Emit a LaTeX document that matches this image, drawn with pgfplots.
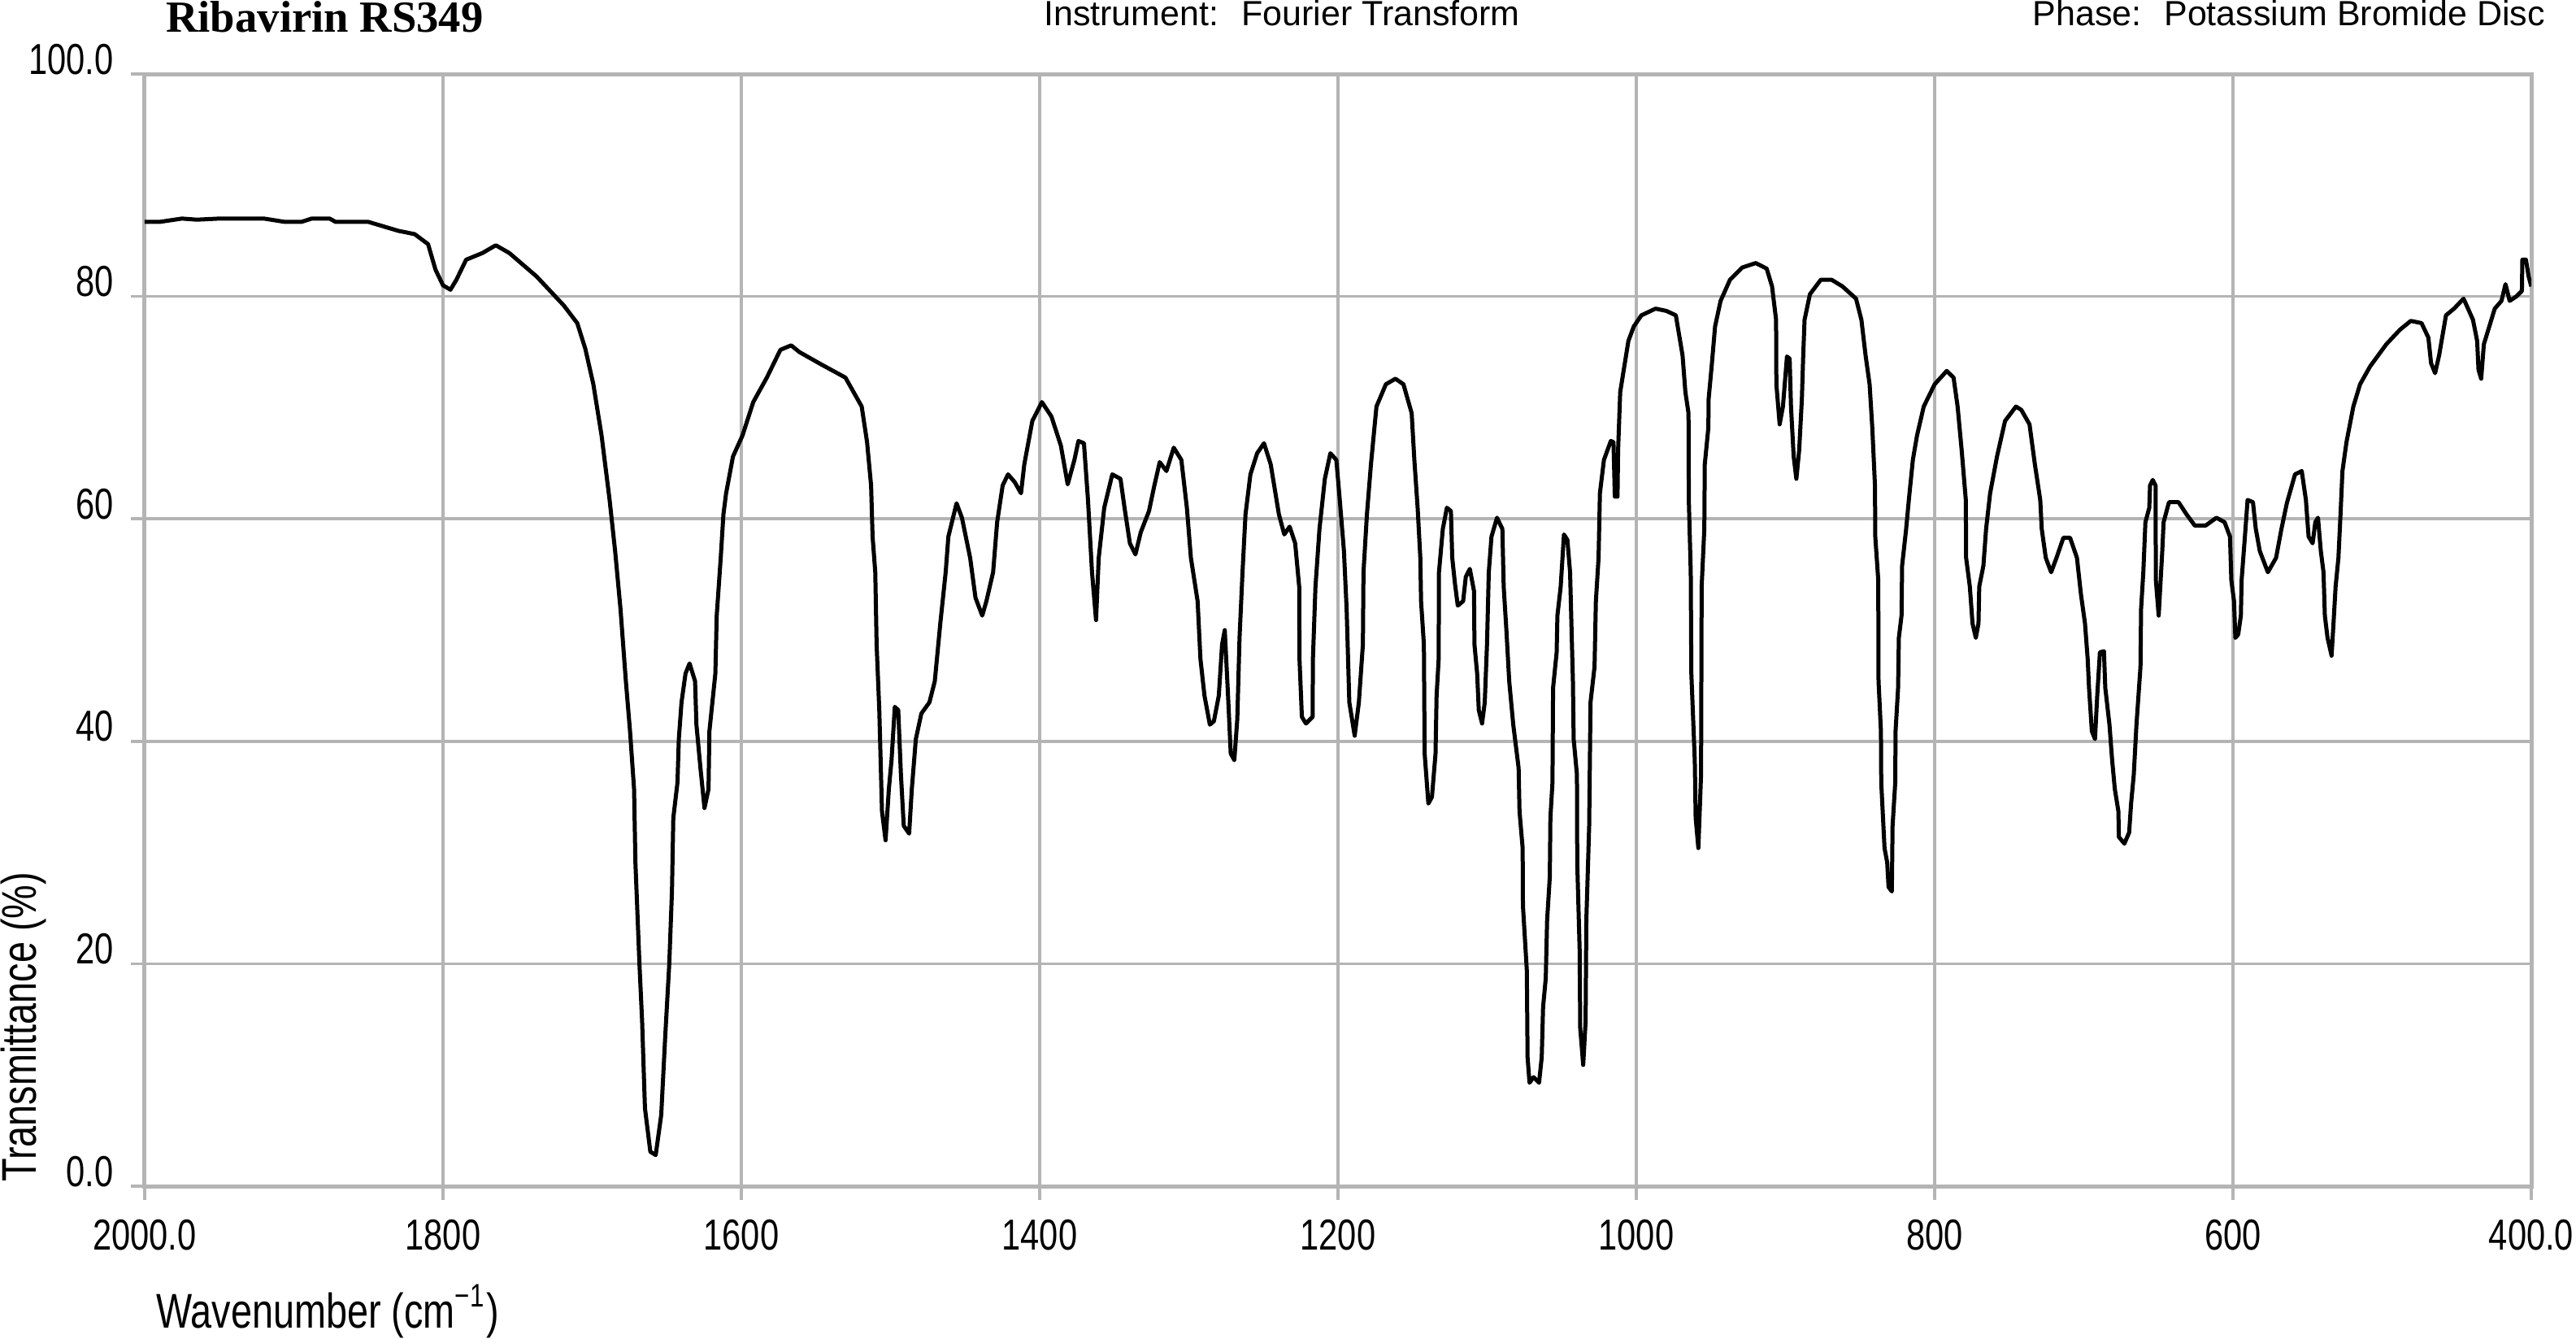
\documentclass[border=0pt]{standalone}
\usepackage{fontspec}
\usepackage{pgfplots}
\pgfplotsset{compat=1.18}
\setmainfont{Liberation Sans}
\newfontfamily\narrow[FakeStretch=0.78]{Liberation Sans}
\newfontfamily\titleserif{Liberation Serif}
\definecolor{gridgray}{RGB}{180,180,180}

\begin{document}
\begin{tikzpicture}
\begin{axis}[
    scale only axis,
    width=440.4pt, height=205.2pt,
    x dir=reverse,
    xmin=400, xmax=2000, ymin=0, ymax=100,
    xtick={400,600,800,1000,1200,1400,1600,1800,2000},
    xticklabels={400.0,600,800,1000,1200,1400,1600,1800,2000.0},
    ytick={0,20,40,60,80,100},
    yticklabels={0.0,20,40,60,80,100.0},
    xtick pos=lower, ytick pos=left,
    grid=major,
    major grid style={gridgray, line width=0.55pt},
    axis line style={gridgray, line width=0.75pt},
    tick align=outside,
    major tick length=2.6pt,
    tick style={gridgray, line width=0.55pt},
    ticklabel style={font=\narrow\fontsize{8}{9}\selectfont, text=black},
    yticklabel style={anchor=base east, inner sep=0pt, xshift=-3.0pt},
    xticklabel style={anchor=north, inner sep=0pt, yshift=-3.45pt},
]
\addplot[black, line width=0.75pt, line join=round] table {
w T
2000 86.7
1990 86.7
1975 87.0
1965 86.9
1950 87.0
1935 87.0
1920 87.0
1906 86.7
1895 86.7
1888 87.0
1876 87.0
1872 86.7
1850 86.7
1840 86.3
1830 85.9
1819 85.6
1810 84.7
1805 82.4
1800 81.0
1795 80.6
1791 81.5
1784.5 83.3
1773.6 83.9
1764.6 84.6
1755.5 83.9
1737.3 81.8
1719.1 79.2
1710 77.6
1704.6 75.3
1699.2 72.1
1693.7 67.5
1688.3 61.7
1684.6 57.1
1681 51.9
1677.4 45.4
1674.6 40.9
1671.9 35.7
1671 29.1
1668.3 20.0
1666.5 14.8
1664.6 7.0
1661 3.1
1657.4 2.8
1653.7 6.4
1651 13.5
1648.3 20.0
1646.5 26.5
1645.6 33.1
1642.8 36.3
1641.9 40.2
1640.1 43.5
1637.4 46.1
1634.7 47.0
1631 45.4
1630.1 41.5
1627.4 37.6
1624.7 34.0
1622 35.7
1621.4 40.9
1617.4 46.1
1616.5 51.3
1613.8 56.5
1612 60.4
1610.2 62.3
1605.6 65.6
1599.2 67.5
1592 70.5
1582.9 72.7
1573.8 75.2
1566.6 75.6
1561.1 75.0
1546.6 73.9
1530.2 72.7
1519.3 70.1
1515.7 66.9
1513 63.0
1512 58.4
1510.2 55.2
1509.3 48.7
1507.5 42.8
1505.7 33.7
1503.3 31.1
1501.1 35.7
1499.3 38.3
1497.1 43.1
1494.8 42.8
1493 37.0
1491.1 32.4
1487.5 31.7
1485.7 35.7
1483 40.2
1479.3 42.5
1473.9 43.5
1470.3 45.4
1466.6 50.6
1463 55.2
1461.2 58.4
1455.7 61.4
1452.1 60.1
1446.6 56.5
1443 52.9
1438.5 51.3
1435.7 52.6
1431.2 55.2
1428.5 59.7
1424.8 63.0
1421.2 64.0
1416.7 63.3
1412.5 62.3
1410.3 64.9
1404.9 68.8
1398.5 70.5
1392.1 69.2
1385.8 66.6
1381.2 63.1
1376.7 65.3
1374 67.0
1370.3 66.8
1367.6 61.7
1364.9 55.2
1362.2 50.9
1360.4 56.5
1356.7 61.0
1351.3 64.0
1345.8 63.6
1343.1 61.0
1339.5 57.8
1335.8 56.8
1332.2 58.8
1326.7 60.7
1323.1 63.0
1319.5 65.1
1315 64.3
1310.1 66.4
1305 65.3
1301.3 61.0
1298.6 56.5
1294.1 52.6
1292.2 47.4
1289.5 44.1
1285.9 41.5
1283.2 41.8
1279.9 44.1
1277.7 48.7
1275.9 50.0
1273.7 44.1
1271.9 38.9
1269.5 38.3
1267.5 42.0
1266 49.3
1264 55.2
1262 60.4
1258.7 64.0
1254.2 65.9
1249.6 66.8
1245.1 64.9
1239.6 60.4
1236 58.6
1232.4 59.3
1228.7 57.8
1226 53.9
1225.8 47.4
1224.2 42.2
1221.5 41.6
1217 42.2
1216.8 47.4
1215.1 53.9
1212.4 59.1
1208.8 63.6
1205.1 65.9
1201.1 65.3
1198.8 61.7
1196 57.1
1194.2 51.9
1192.4 43.5
1188.8 40.5
1186 43.5
1183.3 48.7
1182.9 55.2
1180.6 60.4
1177.9 64.9
1174.2 70.1
1167.9 72.1
1161.5 72.6
1156.1 72.1
1150.6 69.5
1148.8 65.3
1146.6 61.0
1144.8 56.5
1144.3 52.6
1142.4 48.7
1141.9 38.9
1139.4 34.4
1137 35.0
1134.6 38.9
1133.9 44.1
1132.5 47.4
1132.3 55.2
1129.7 59.1
1127 61.0
1124.3 60.7
1123.4 56.5
1121.6 54.2
1119.7 52.2
1116.1 52.6
1114.3 54.8
1111.6 55.5
1108.8 53.5
1108.5 48.7
1106.7 46.1
1105.6 42.8
1103.4 41.6
1101.6 43.5
1100.1 48.7
1098.9 55.2
1097.1 58.4
1093.4 60.1
1089.8 59.1
1088.9 53.9
1087.1 50.0
1085.2 45.4
1082.5 41.5
1078.9 37.6
1078.3 33.7
1076.2 30.4
1076 25.2
1073.4 19.4
1072.9 11.6
1071.6 9.3
1068.9 9.8
1065.2 9.3
1063.4 11.6
1062.5 16.1
1060.7 18.7
1059.8 23.9
1058 27.8
1057.6 33.1
1056.2 36.3
1055.8 44.8
1053.4 48.0
1052.9 51.3
1050.7 53.9
1048.5 58.6
1046.2 58.1
1044.4 55.2
1043.4 50.0
1042.5 45.4
1042 40.2
1039.8 37.0
1039.6 29.1
1038 21.3
1037.6 14.2
1035.6 10.9
1034 14.8
1033.5 23.9
1031.6 32.4
1030.7 43.5
1028 46.7
1027.1 52.6
1025.3 56.5
1024.4 62.3
1021.7 65.3
1017.1 67.0
1015.3 66.9
1014.4 62.0
1012.6 62.0
1012.2 66.2
1010.8 71.4
1007.1 74.5
1005.3 76.0
1001.7 77.3
996.6 78.3
987.1 78.9
979.9 78.7
973.5 78.3
969 74.7
967.1 71.4
965 69.5
964.8 61.7
963.5 55.2
963.1 46.1
960.8 38.3
960.2 33.1
958.4 30.4
956.6 37.0
956.4 45.4
956.2 53.9
954.4 59.1
954.1 64.9
951.7 68.2
951.5 70.8
949.3 74.0
947.2 77.3
943.5 79.6
937.2 81.5
929 82.6
919.9 83.0
912.6 82.5
909 80.9
906.3 77.9
906.1 72.1
903.9 68.5
901.7 70.1
899 74.6
897.2 74.4
896.3 70.1
894.5 65.6
892.7 63.6
890.8 66.2
889 70.8
888.1 74.7
887.2 77.9
883.6 80.2
876.3 81.5
869.1 81.5
861.8 80.9
852.7 79.8
849.1 77.9
846.3 74.7
843.6 72.1
841.8 68.2
840 63.0
839.8 58.4
837.8 54.5
837.6 45.4
836 40.9
835.8 36.3
833.6 30.4
831.8 29.1
830.9 26.9
828.7 26.5
828.2 32.4
826.4 36.3
826.2 40.9
824.5 44.8
824 49.3
822.2 51.3
821.8 55.8
819.1 59.1
817.3 61.7
814.6 65.3
811.8 67.5
807.3 70.1
800 72.1
791.9 73.3
787.3 72.7
784.6 70.1
781.9 66.2
779.1 61.7
778.9 56.5
776.4 53.9
774.6 50.6
772.4 49.3
770.6 50.6
770.1 53.9
767.3 55.8
765.5 59.1
762.8 62.3
758.2 65.6
752.8 68.8
745.5 70.1
741.9 69.8
736.4 68.5
732.8 64.9
729.2 61.7
728.2 59.1
725.5 56.5
721.9 55.2
718.3 56.5
713.7 58.3
709.2 58.3
704.6 56.5
701.9 53.2
699.2 50.6
697.4 47.4
696.5 44.8
694.6 40.9
692.5 40.2
691 44.1
689.2 48.0
686.5 48.1
685.6 44.8
682.8 41.5
681 38.3
679.2 35.7
676.8 33.7
676.5 31.4
672.8 30.8
669.6 31.8
668.3 34.4
666.5 37.0
664.7 41.5
662 46.7
661.6 51.9
660.1 55.2
658.7 59.7
656.1 61.0
655.6 63.0
653.8 63.5
651.9 63.0
651.7 54.5
649.8 51.3
647.4 57.1
646.5 59.7
642.9 61.5
636.5 61.5
631.1 60.4
625.6 59.4
618.3 59.4
611.1 60.1
605.6 59.7
602 58.4
601.1 54.5
599.3 52.6
598.4 49.3
596.5 49.6
594.7 51.3
594.2 54.5
592 58.4
590.2 61.7
586.6 61.5
584.7 59.1
582 57.1
576.6 55.2
571.1 56.5
567.5 59.1
563.9 61.4
558.4 64.0
553.9 64.3
551.1 61.7
549.3 58.4
546.6 57.8
544.8 59.7
543 60.1
541.1 57.1
539.3 55.2
538.4 51.3
536.6 49.3
533.9 47.7
532.6 50.6
531.2 53.9
529.3 56.5
527.9 60.4
526.6 64.3
523.9 66.9
519.3 70.1
514.8 72.1
508.1 73.7
497.2 75.7
488.1 77.0
480.8 77.8
473.6 77.6
469 76.3
467.2 74.0
464.5 73.1
461.8 74.7
457.2 78.3
451.8 78.9
445.4 79.8
439.1 77.9
436.3 76.0
435.4 73.4
433.6 72.6
431.8 75.7
424.5 78.9
420 79.6
417.3 81.1
414.5 79.6
410 80.0
406.3 80.5
406 83.3
403.6 83.3
401.8 81.8
400 80.9
};
\end{axis}
% header and axis titles, positioned relative to the axis box (origin at its lower left)
\node[anchor=base west, inner sep=0pt, font=\titleserif\bfseries\fontsize{8.2}{10}\selectfont] at (3.75pt,212.85pt) {Ribavirin RS349};
\node[anchor=base west, inner sep=0pt, font=\fontsize{6.45}{8}\selectfont] at (165.75pt,214.05pt) {Instrument:~ Fourier Transform};
\node[anchor=base east, inner sep=0pt, font=\fontsize{6.45}{8}\selectfont] at (443.1pt,214.05pt) {Phase:~ Potassium Bromide Disc};
\node[anchor=base west, inner sep=0pt, font=\narrow\fontsize{9}{11}\selectfont] at (1.95pt,-26.1pt) {Wavenumber (cm\textsuperscript{−1})};
\node[anchor=base west, rotate=90, inner sep=0pt, font=\narrow\fontsize{9}{11}\selectfont] at (-19.95pt,0.6pt) {Transmittance (\%)};
\pgfresetboundingbox
\path[use as bounding box] (-26.7pt,-28.05pt) rectangle (448.65pt,218.85pt);
\end{tikzpicture}
\end{document}
